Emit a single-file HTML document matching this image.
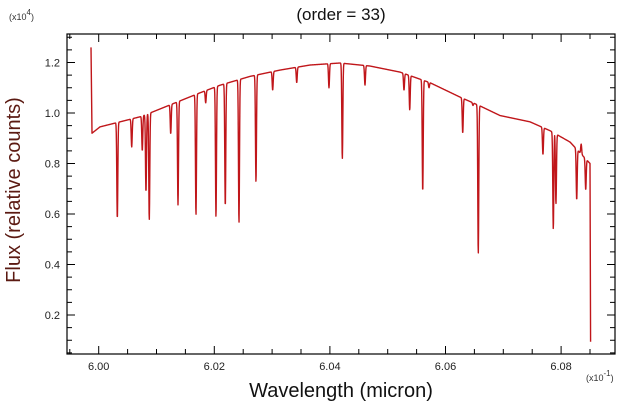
<!DOCTYPE html>
<html><head><meta charset="utf-8"><style>
body{margin:0;background:#fff;}
svg{display:block;font-family:"Liberation Sans",sans-serif;}
</style></head><body>
<svg id="chart" width="634" height="406" viewBox="0 0 634 406">
<rect width="634" height="406" fill="#fff"/>
<text x="341" y="20" font-size="17" text-anchor="middle" fill="#111">(order = 33)</text>
<text x="9" y="20" font-size="9" fill="#333">(x10<tspan dy="-5" font-size="8">4</tspan><tspan dy="5">)</tspan></text>
<text x="586" y="381" font-size="9" fill="#333">(x10<tspan dy="-5" font-size="8">-1</tspan><tspan dy="5">)</tspan></text>
<text transform="translate(20,190) rotate(-90)" font-size="20" text-anchor="middle" fill="#5b1a12">Flux (relative counts)</text>
<text x="341" y="397" font-size="20" text-anchor="middle" fill="#111">Wavelength (micron)</text>
<g id="axes"></g>
<path id="spectrum" fill="none" stroke="#c0161a" stroke-width="1.4" stroke-linejoin="round"/>
<rect x="67" y="34" width="548" height="320" fill="none" stroke="#000" stroke-width="1.2"/>
</svg>
<script>
const contWave=[5.99884,6.00022,6.00369,6.00715,6.00888,6.01320,6.01753,6.02099,6.02618,6.03137,6.03656,6.04175,6.04694,6.05213,6.05732,6.06251,6.06597,6.06943,6.07462,6.07808,6.08154,6.08500];
const contFlux=[0.92,0.945,0.965,0.985,1.0,1.04,1.08,1.11,1.145,1.17,1.19,1.198,1.186,1.162,1.12,1.063,1.028,0.99,0.965,0.93,0.885,0.80];
const lineWave=[6.00322,6.00571,6.00754,6.00818,6.00875,6.01246,6.01372,6.01683,6.01851,6.02029,6.02190,6.02427,6.02721,6.03010,6.03426,6.03984,6.04215,6.04607,6.05282,6.05381,6.05606,6.05715,6.06298,6.06476,6.06567,6.07686,6.07865,6.07911,6.08270,6.08347,6.08426];
const lineFlux=[0.58,0.865,0.85,0.686,0.576,0.917,0.636,0.596,1.04,0.588,0.628,0.564,0.727,1.09,1.12,1.10,0.818,1.11,1.09,1.012,0.687,1.10,0.92,1.03,0.442,0.835,0.54,0.64,0.655,0.877,0.695];
const startSpike=[5.99867,1.26];
const endDrop=[6.08510,0.094];
const xTicks=[6.00,6.02,6.04,6.06,6.08];
const xTickLabels=["6.00","6.02","6.04","6.06","6.08"];
const yTicks=[0.2,0.4,0.6,0.8,1.0,1.2];
const yTickLabels=["0.2","0.4","0.6","0.8","1.0","1.2"];

const X0=67,X1=615,Y0=34,Y1=354;
function xs(w){return 98.7+(w-6.00)*5780;}
function ys(v){return 113-(v-1.0)*252.5;}
function cont(w){
  if(w<=contWave[0])return contFlux[0];
  for(let i=1;i<contWave.length;i++){if(w<=contWave[i]){const t=(w-contWave[i-1])/(contWave[i]-contWave[i-1]);return contFlux[i-1]+t*(contFlux[i]-contFlux[i-1]);}}
  return contFlux[contFlux.length-1];
}
const sig=0.00012;
let d="M"+xs(startSpike[0]).toFixed(2)+","+ys(startSpike[1]).toFixed(2);
for(let w=contWave[0];w<=contWave[contWave.length-1]+1e-9;w+=0.00004){
  const c=cont(w);let best=0;
  for(let i=0;i<lineWave.length;i++){const dw=(w-lineWave[i])/sig;if(Math.abs(dw)>4)continue;const del=(lineFlux[i]-c)*Math.exp(-dw*dw);if(Math.abs(del)>Math.abs(best))best=del;}
  d+=" L"+xs(w).toFixed(2)+","+ys(c+best).toFixed(2);
}
d+=" L"+xs(endDrop[0]).toFixed(2)+","+ys(endDrop[1]).toFixed(2);
document.getElementById('spectrum').setAttribute('d',d);

const ax=document.getElementById('axes');const NS="http://www.w3.org/2000/svg";
function ln(x1,y1,x2,y2,name){const l=document.createElementNS(NS,'line');l.setAttribute('x1',x1);l.setAttribute('y1',y1);l.setAttribute('x2',x2);l.setAttribute('y2',y2);l.setAttribute('stroke','#000');l.setAttribute('stroke-width','1');


ax.appendChild(l);}
function tx(x,y,s,anchor,name){const t=document.createElementNS(NS,'text');t.setAttribute('x',x);t.setAttribute('y',y);t.setAttribute('font-size','11');t.setAttribute('fill','#222');t.setAttribute('text-anchor',anchor);t.textContent=s;


ax.appendChild(t);}
for(let w=5.995;w<6.0893;w+=0.005){const x=xs(w);if(x<X0||x>X1)continue;const major=Math.abs(Math.round(w*50)-w*50)<1e-6;const L=major?8:5;ln(x,Y1,x,Y1-L,'x-tick');ln(x,Y0,x,Y0+L,'x-tick-top');}
xTicks.forEach((w,i)=>tx(xs(w),Y1+16,xTickLabels[i],'middle','x-tick-label'));
for(let v=0.05;v<1.31;v+=0.05){const y=ys(v);if(y<Y0||y>Y1)continue;const major=Math.abs(Math.round(v*5)-v*5)<1e-6;const L=major?8:5;ln(X0,y,X0+L,y,'y-tick');ln(X1,y,X1-L,y,'y-tick-right');}
yTicks.forEach((v,i)=>tx(60,ys(v)+4,yTickLabels[i],'end','y-tick-label'));
</script>
</body></html>
